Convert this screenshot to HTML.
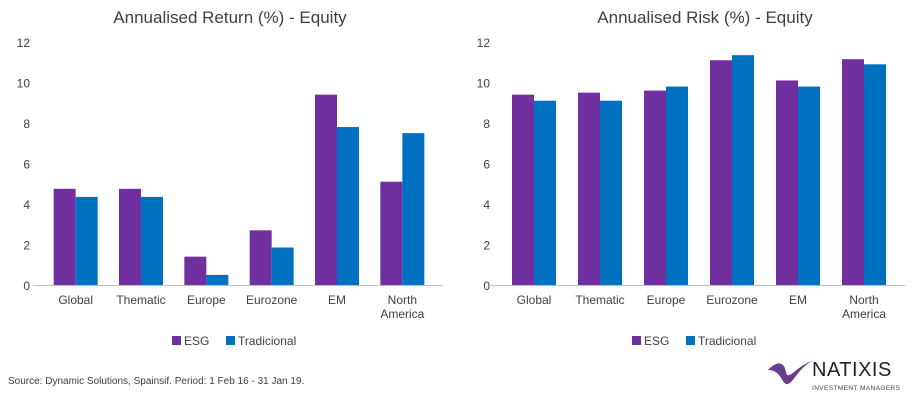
<!DOCTYPE html>
<html><head><meta charset="utf-8"><style>
body{margin:0;background:#fff;width:917px;height:414px;overflow:hidden;font-family:"Liberation Sans",sans-serif}
</style></head><body>
<svg id="s" width="917" height="414" xmlns="http://www.w3.org/2000/svg" font-family="Liberation Sans, sans-serif">
<text x="230" y="23" font-size="17" fill="#404040" text-anchor="middle">Annualised Return (%) - Equity</text>
<text x="705" y="23" font-size="17" fill="#404040" text-anchor="middle">Annualised Risk (%) - Equity</text>
<g id="c1"></g>
<g id="c2"></g>
<text x="8" y="384" font-size="10" fill="#404040">Source: Dynamic Solutions, Spainsif. Period: 1 Feb 16 - 31 Jan 19.</text>
<g>
<path d="M768 370 C778 360,784 362,786 372 C788 382,796 366,814 360 C800 366,794 382,788 384 C782 386,782 370,768 370Z" fill="#6a3d8f"/>
<text x="812" y="376" font-size="20" fill="#222" letter-spacing="0.5">NATIXIS</text>
<text x="812" y="390" font-size="6.5" fill="#444" letter-spacing="0.4">INVESTMENT MANAGERS</text>
</g>
</svg>
<script>
const categories=["Global","Thematic","Europe","Eurozone","EM","North America"];
const returnESG=[4.75,4.75,1.4,2.7,9.4,5.1];
const returnTrad=[4.35,4.35,0.5,1.85,7.8,7.5];
const riskESG=[9.4,9.5,9.6,11.1,10.1,11.15];
const riskTrad=[9.1,9.1,9.8,11.35,9.8,10.9];
const yTicks=[0,2,4,6,8,10,12];
const NS="http://www.w3.org/2000/svg";
function mk(g,t,a){const e=document.createElementNS(NS,t);for(const k in a)e.setAttribute(k,a[k]);g.appendChild(e);return e;}
function chart(id,x0,x1,lx,esg,trad,prefix){
  const g=document.getElementById(id);
  const y=v=>285-v*20.25;
  const cw=(x1-x0)/categories.length;
  yTicks.forEach(t=>{const e=mk(g,"text",{x:lx,y:y(t)+5,"font-size":12,fill:"#404040","text-anchor":"end"});e.textContent=t;
    
    });
  categories.forEach((c,i)=>{
    const cx=x0+cw*i+cw/2;
    const b1=mk(g,"rect",{x:cx-22,y:y(esg[i]),width:22,height:y(0)-y(esg[i]),fill:"#7030a0"});
    
    
    const b2=mk(g,"rect",{x:cx,y:y(trad[i]),width:22,height:y(0)-y(trad[i]),fill:"#0070c0"});
    
    
    const parts=c==="North America"?["North","America"]:[c];
    parts.forEach((p,j)=>{const e=mk(g,"text",{x:cx,y:304+j*14,"font-size":12,fill:"#404040","text-anchor":"middle"});e.textContent=p;
      
      });
  });
  const ax=mk(g,"line",{x1:x0-10,x2:x1+8,y1:285.5,y2:285.5,stroke:"#bfbfbf","stroke-width":1});
  
  
  const lg=(x0+x1)/2-67;
  [["ESG","#7030a0",0],["Tradicional","#0070c0",54]].forEach(([n,col,dx])=>{
    const r=mk(g,"rect",{x:lg+dx,y:336,width:9,height:9,fill:col});
    
    
    const t=mk(g,"text",{x:lg+dx+12,y:345,"font-size":12,fill:"#404040"});t.textContent=n;
    
    
  });
}
chart("c1",43,435,30,returnESG,returnTrad,"return");
chart("c2",501,897,490,riskESG,riskTrad,"risk");
</script>
</body></html>
